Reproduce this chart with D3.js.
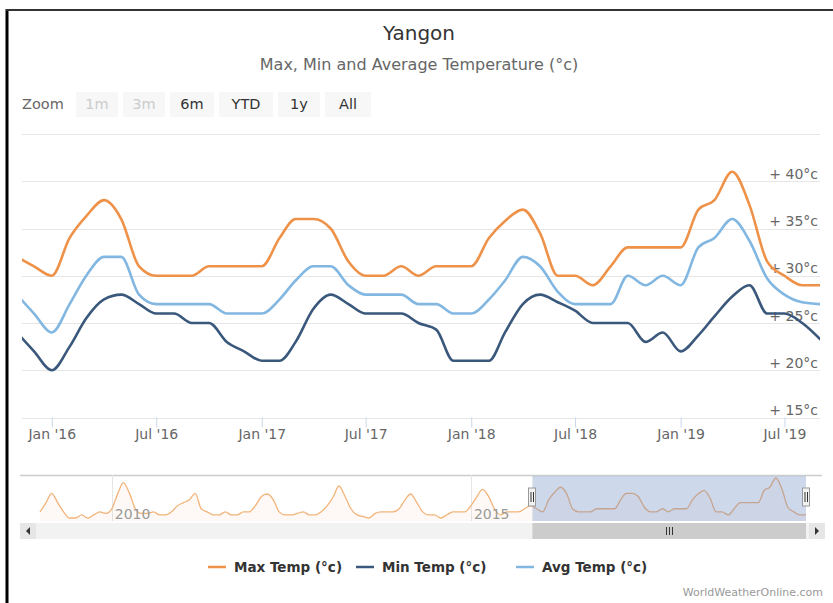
<!DOCTYPE html>
<html lang="en">
<head>
<meta charset="utf-8">
<title>Yangon - Max, Min and Average Temperature</title>
<script src="https://cdn.jsdelivr.net/npm/d3@7"></script>
<style>
  body { margin: 0; background: #ffffff; font-family: "DejaVu Sans", sans-serif; }
  svg text { font-family: "DejaVu Sans", sans-serif; }
</style>
</head>
<body>
<script>
var w = 833, h = 603;

// monthly values, Nov 2015 - Sep 2019
var months = ["2015-11","2015-12",
  "2016-01","2016-02","2016-03","2016-04","2016-05","2016-06","2016-07","2016-08","2016-09","2016-10","2016-11","2016-12",
  "2017-01","2017-02","2017-03","2017-04","2017-05","2017-06","2017-07","2017-08","2017-09","2017-10","2017-11","2017-12",
  "2018-01","2018-02","2018-03","2018-04","2018-05","2018-06","2018-07","2018-08","2018-09","2018-10","2018-11","2018-12",
  "2019-01","2019-02","2019-03","2019-04","2019-05","2019-06","2019-07","2019-08","2019-09"];
var maxTemp = [32, 31,
  30, 34, 36.3, 38, 36, 31, 30, 30, 30, 31, 31, 31,
  31, 34, 36, 36, 35, 31.5, 30, 30, 31, 30, 31, 31,
  31, 34, 35.8, 37, 34.5, 30, 30, 29, 31, 33, 33, 33,
  33, 37, 38, 41, 37.5, 31.5, 30, 29, 29];
var minTemp = [24, 22,
  20, 22.5, 25.5, 27.5, 28, 27, 26, 26, 25, 25, 23, 22,
  21, 21, 23, 26.5, 28, 27, 26, 26, 26, 25, 24.3, 21,
  21, 21, 24, 27, 28, 27.2, 26.3, 25, 25, 25, 23, 24,
  22, 23.7, 25.7, 27.8, 29, 26, 26, 25, 23.3];
var avgTemp = [28, 26,
  24, 27, 30, 32, 32, 28, 27, 27, 27, 27, 26, 26,
  26, 27.5, 29.5, 31, 31, 29, 28, 28, 28, 27, 27, 26,
  26, 27.5, 29.5, 32, 31, 28.3, 27, 27, 27, 30, 29, 30,
  29, 33, 34, 36, 33.7, 29.7, 28, 27.2, 27];

// navigator history of max temp, Jan 2009 - Oct 2015
var navStart = "2009-01";
var navMaxHistory = [
  30, 33, 36, 33, 30, 28, 28, 29, 28, 29, 30, 29.5,
  31, 36, 39.5, 36, 31, 29.5, 29.5, 30, 29, 29, 30, 32,
  33, 34, 36, 31, 30, 29, 29, 30, 29, 29, 30, 30,
  32, 35, 35.8, 34, 30, 29, 29, 29.5, 30, 29, 29, 30,
  32, 35, 38.4, 35, 31, 29, 28.5, 28, 29.5, 30, 30, 30,
  31, 34, 35.8, 33, 30, 29, 29, 28, 29, 30, 30, 30,
  32, 35, 37.3, 35, 31, 29, 30, 30, 30, 31];

var yTicks = [15, 20, 25, 30, 35, 40];
var yGrid = [15, 20, 25, 30, 35, 40, 45];
var xTicks = ["2016-01","2016-07","2017-01","2017-07","2018-01","2018-07","2019-01","2019-07"];
var navTicks = ["2010-01", "2015-01"];
var zoomButtons = ["1m", "3m", "6m", "YTD", "1y", "All"];
var zoomEnabled = [false, false, true, true, true, true];
var seriesNames = ["Max Temp (°c)", "Min Temp (°c)", "Avg Temp (°c)"];
var colors = ["#ee9249", "#3a587b", "#82b7e2"];

var parseMonth = d3.timeParse("%Y-%m");
var dates = months.map(parseMonth);
var series = [maxTemp, minTemp, avgTemp].map(function(vals) {
  return vals.map(function(v, i) { return { date: dates[i], v: v }; });
});

var svg = d3.select("body").append("svg")
  .attr("width", w).attr("height", h);

// frame
svg.append("line").attr("x1", 7).attr("x2", 7).attr("y1", 9).attr("y2", h)
  .attr("stroke", "#000").attr("stroke-width", 3);
svg.append("line").attr("x1", 6).attr("x2", w).attr("y1", 10).attr("y2", 10)
  .attr("stroke", "#333").attr("stroke-width", 2);

// titles
svg.append("text").attr("x", 419).attr("y", 40).attr("text-anchor", "middle")
  .attr("font-size", "20px").attr("fill", "#333").text("Yangon");
svg.append("text").attr("x", 419).attr("y", 70).attr("text-anchor", "middle")
  .attr("font-size", "16px").attr("fill", "#666").text("Max, Min and Average Temperature (°c)");

// range selector buttons
svg.append("text").attr("x", 22).attr("y", 109).attr("font-size", "14.5px")
  .attr("fill", "#666").text("Zoom");
var btnX = [76, 123, 170, 219, 278, 325];
var btnW = [42, 42, 44, 54, 42, 46];
var btn = svg.selectAll("g.btn").data(zoomButtons).enter().append("g").attr("class", "btn");
btn.append("rect")
  .attr("x", function(d, i) { return btnX[i]; }).attr("y", 92)
  .attr("width", function(d, i) { return btnW[i]; }).attr("height", 25)
  .attr("fill", "#f7f7f7");
btn.append("text")
  .attr("x", function(d, i) { return btnX[i] + btnW[i] / 2; }).attr("y", 109)
  .attr("text-anchor", "middle").attr("font-size", "14.5px")
  .attr("fill", function(d, i) { return zoomEnabled[i] ? "#333" : "#cccccc"; })
  .text(function(d) { return d; });

// main plot
var plotLeft = 22, plotRight = 820, plotTop = 134, plotBottom = 417.5;
var xScale = d3.scaleTime()
  .domain([new Date(2015, 10, 10), new Date(2019, 8, 1)])
  .range([plotLeft, plotRight]);
var yScale = d3.scaleLinear().domain([15, 45]).range([plotBottom, plotTop]);

svg.append("clipPath").attr("id", "plotclip").append("rect")
  .attr("x", plotLeft).attr("y", plotTop - 10)
  .attr("width", plotRight - plotLeft).attr("height", plotBottom - plotTop + 20);

svg.selectAll("line.grid").data(yGrid).enter().append("line")
  .attr("class", "grid")
  .attr("x1", plotLeft).attr("x2", plotRight)
  .attr("y1", function(d) { return Math.round(yScale(d)) + 0.5; })
  .attr("y2", function(d) { return Math.round(yScale(d)) + 0.5; })
  .attr("stroke", "#e6e6e6").attr("stroke-width", 1);

// y labels
var yAxis = d3.axisLeft(yScale).tickValues(yTicks).tickSize(0)
  .tickFormat(function(d) { return "+ " + d + "°c"; });
var gy = svg.append("g").attr("transform", "translate(820,0)").call(yAxis);
gy.select(".domain").remove();
gy.selectAll("text").attr("x", -2).attr("dy", "-3px")
  .attr("font-size", "14px").attr("fill", "#666")
  .style("font-family", "DejaVu Sans, sans-serif");

// x axis
var xAxis = d3.axisBottom(xScale).tickValues(xTicks.map(parseMonth))
  .tickSize(10).tickPadding(2).tickFormat(d3.timeFormat("%b '%y"));
var gx = svg.append("g").attr("transform", "translate(0," + plotBottom + ")").call(xAxis);
gx.select(".domain").remove();
gx.selectAll("line").attr("stroke", "#ccd6eb");
gx.selectAll("text").attr("font-size", "14px").attr("fill", "#666")
  .style("font-family", "DejaVu Sans, sans-serif");

// lines
var line = d3.line()
  .x(function(d) { return xScale(d.date); })
  .y(function(d) { return yScale(d.v); })
  .curve(d3.curveMonotoneX);
svg.append("g").attr("clip-path", "url(#plotclip)")
  .selectAll("path.series").data(series).enter().append("path")
  .attr("class", "series")
  .attr("d", line)
  .attr("fill", "none")
  .attr("stroke", function(d, i) { return colors[i]; })
  .attr("stroke-width", 2.6)
  .attr("stroke-linejoin", "round").attr("stroke-linecap", "round");

// navigator
var navDates = d3.timeMonth.range(parseMonth(navStart), dates[0]).concat(dates);
var navValues = navMaxHistory.concat(maxTemp);
var navData = navValues.map(function(v, i) { return { date: navDates[i], v: v }; });
var navTop = 475, navBottom = 521;
var navX = d3.scaleTime()
  .domain([new Date(2009, 0, 1), new Date(2019, 8, 1)])
  .range([40, 806]);
var navY = d3.scaleLinear().domain(d3.extent(navValues)).range([navBottom - 3, navTop + 3]);

svg.append("line").attr("x1", 20).attr("x2", 822).attr("y1", navTop + 0.5).attr("y2", navTop + 0.5)
  .attr("stroke", "#cccccc").attr("stroke-width", 1.5);
svg.selectAll("line.navgrid").data(navTicks.map(parseMonth)).enter().append("line")
  .attr("class", "navgrid")
  .attr("x1", function(d) { return Math.round(navX(d)) + 0.5; })
  .attr("x2", function(d) { return Math.round(navX(d)) + 0.5; })
  .attr("y1", navTop).attr("y2", navBottom)
  .attr("stroke", "#e6e6e6");

var navArea = d3.area()
  .x(function(d) { return navX(d.date); })
  .y0(navBottom).y1(function(d) { return navY(d.v); })
  .curve(d3.curveMonotoneX);
var navLine = navArea.lineY1();
svg.append("path").datum(navData).attr("d", navArea)
  .attr("fill", colors[0]).attr("fill-opacity", 0.05);
svg.append("path").datum(navData).attr("d", navLine)
  .attr("fill", "none").attr("stroke", "#f2b47a").attr("stroke-width", 1.3);

svg.selectAll("text.navlabel").data(navTicks.map(parseMonth)).enter().append("text")
  .attr("class", "navlabel")
  .attr("x", function(d) { return navX(d) + 3; }).attr("y", 519)
  .attr("font-size", "14px").attr("fill", "#999")
  .text(d3.timeFormat("%Y"));

var selL = xScale.invert(plotLeft), selR = xScale.invert(plotRight);
var sx0 = navX(selL), sx1 = navX(selR);
svg.append("rect").attr("x", sx0).attr("y", navTop + 1)
  .attr("width", sx1 - sx0).attr("height", navBottom - navTop - 1)
  .attr("fill", "rgba(102,133,194,0.32)");

// handles
[sx0, sx1].forEach(function(hx) {
  var g = svg.append("g").attr("transform", "translate(" + Math.round(hx) + ",0)");
  g.append("rect").attr("x", -3.5).attr("y", 488).attr("width", 7).attr("height", 18)
    .attr("fill", "#f2f2f2").attr("stroke", "#999").attr("stroke-width", 1);
  g.append("line").attr("x1", -1).attr("x2", -1).attr("y1", 492).attr("y2", 502).attr("stroke", "#333");
  g.append("line").attr("x1", 1.5).attr("x2", 1.5).attr("y1", 492).attr("y2", 502).attr("stroke", "#333");
});

// scrollbar
var sbY = 523, sbH = 16;
svg.append("rect").attr("x", 20).attr("y", sbY).attr("width", 805).attr("height", sbH).attr("fill", "#f2f2f2");
svg.append("rect").attr("x", sx0).attr("y", sbY).attr("width", sx1 - sx0).attr("height", sbH).attr("fill", "#cccccc");
svg.append("rect").attr("x", 20).attr("y", sbY).attr("width", 16).attr("height", sbH).attr("fill", "#e6e6e6");
svg.append("rect").attr("x", 809).attr("y", sbY).attr("width", 16).attr("height", sbH).attr("fill", "#e6e6e6");
svg.append("path").attr("d", "M30,527 L30,535 L26,531 Z").attr("fill", "#333");
svg.append("path").attr("d", "M815,527 L815,535 L819,531 Z").attr("fill", "#333");
var gripX = Math.round((sx0 + sx1) / 2);
[-3, 0, 3].forEach(function(o) {
  svg.append("line").attr("x1", gripX + o + 0.5).attr("x2", gripX + o + 0.5)
    .attr("y1", 527).attr("y2", 535).attr("stroke", "#333");
});

// legend
var legX = [208, 356, 516];
var leg = svg.selectAll("g.leg").data(seriesNames).enter().append("g")
  .attr("class", "leg")
  .attr("transform", function(d, i) { return "translate(" + legX[i] + ",567)"; });
leg.append("line").attr("x1", 0).attr("x2", 18).attr("y1", 0).attr("y2", 0)
  .attr("stroke", function(d, i) { return colors[i]; }).attr("stroke-width", 2.5);
leg.append("text").attr("x", 26).attr("y", 5).attr("font-size", "13.5px")
  .attr("font-weight", "bold").attr("fill", "#333")
  .text(function(d) { return d; });

// credits
svg.append("text").attr("x", 823).attr("y", 596).attr("text-anchor", "end")
  .attr("font-size", "11px").attr("fill", "#999").text("WorldWeatherOnline.com");
</script>
</body>
</html>
